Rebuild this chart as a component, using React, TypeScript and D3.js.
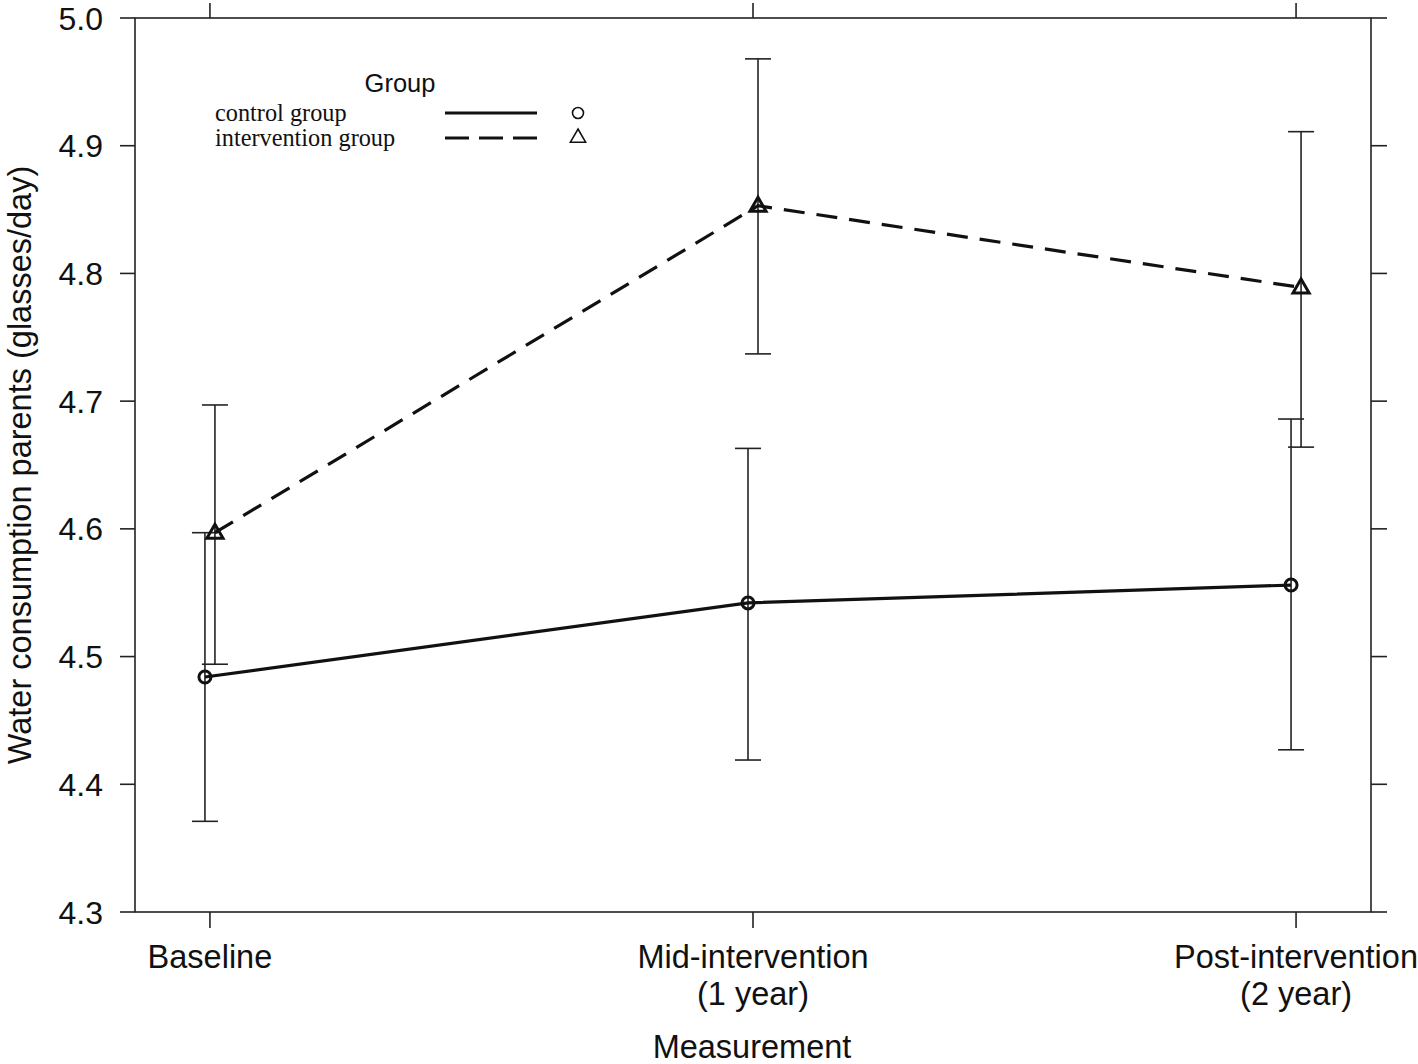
import React from "react";
import * as d3 from "d3";

const categories = ["Baseline", "Mid-intervention\n(1 year)", "Post-intervention\n(2 year)"];
const yTicks = [4.3, 4.4, 4.5, 4.6, 4.7, 4.8, 4.9, 5.0];

const controlMean = [4.484, 4.542, 4.556];
const controlLower = [4.371, 4.419, 4.427];
const controlUpper = [4.597, 4.663, 4.686];

const interventionMean = [4.597, 4.853, 4.789];
const interventionLower = [4.494, 4.737, 4.664];
const interventionUpper = [4.697, 4.968, 4.911];

const groups = [
  { name: "control group", mean: controlMean, lower: controlLower, upper: controlUpper, offset: -5, dash: null as string | null, marker: "circle" },
  { name: "intervention group", mean: interventionMean, lower: interventionLower, upper: interventionUpper, offset: 5, dash: "21 12", marker: "triangle" },
];

const W = 1418;
const H = 1064;
const L = 135, R = 1371, T = 18, B = 912;
const sans = "'Liberation Sans', Arial, sans-serif";
const serif = "'Liberation Serif', 'Times New Roman', serif";

export default function App() {
  const x = d3.scalePoint<string>().domain(categories).range([L, R]).padding(0.138);
  const y = d3.scaleLinear().domain([4.3, 5.0]).range([B, T]);
  const line = d3.line<[number, number]>().x((d) => d[0]).y((d) => d[1]);
  const triPath = (cx: number, cy: number, s = 8.5) =>
    `M${cx},${cy - s} L${cx + s * 0.95},${cy + s * 0.65} L${cx - s * 0.95},${cy + s * 0.65} Z`;

  return (
    <svg width={W} height={H} style={{ position: "absolute", left: 0, top: 0, background: "#fff" }}>
      <rect x={0} y={0} width={W} height={H} fill="#fff" />
      <rect x={L} y={T} width={R - L} height={B - T} fill="none" stroke="#222" strokeWidth={1.6} />
      {yTicks.map((t) => (
        <g key={t}>
          <line x1={L - 15} x2={L} y1={y(t)} y2={y(t)} stroke="#222" strokeWidth={1.6} />
          <line x1={R} x2={R + 16} y1={y(t)} y2={y(t)} stroke="#222" strokeWidth={1.6} />
          <text x={L - 32} y={y(t) + 11.5} textAnchor="end" fontFamily={sans} fontSize={32} fill="#111">
            {t.toFixed(1)}
          </text>
        </g>
      ))}
      {categories.map((c) => {
        const cx = x(c)!;
        const lines = c.split("\n");
        return (
          <g key={c}>
            <line x1={cx} x2={cx} y1={B} y2={B + 16} stroke="#222" strokeWidth={1.6} />
            <line x1={cx} x2={cx} y1={T - 15} y2={T} stroke="#222" strokeWidth={1.6} />
            {lines.map((ln, i) => (
              <text key={i} x={cx} y={968 + i * 37} textAnchor="middle" fontFamily={sans} fontSize={32.5} fill="#111">
                {ln}
              </text>
            ))}
          </g>
        );
      })}
      <text x={752} y={1058} textAnchor="middle" fontFamily={sans} fontSize={32.5} fill="#111">
        Measurement
      </text>
      <text
        transform={`translate(31,${(T + B) / 2}) rotate(-90)`}
        textAnchor="middle"
        fontFamily={sans}
        fontSize={32.5}
        fill="#111"
      >
        Water consumption parents (glasses/day)
      </text>
      {groups.map((g) => {
        const pts: [number, number][] = categories.map((c, i) => [x(c)! + g.offset, y(g.mean[i])]);
        return (
          <g key={g.name}>
            {categories.map((c, i) => {
              const cx = x(c)! + g.offset;
              return (
                <g key={c} stroke="#222" strokeWidth={1.6}>
                  <line x1={cx} x2={cx} y1={y(g.lower[i])} y2={y(g.upper[i])} />
                  <line x1={cx - 13} x2={cx + 13} y1={y(g.lower[i])} y2={y(g.lower[i])} />
                  <line x1={cx - 13} x2={cx + 13} y1={y(g.upper[i])} y2={y(g.upper[i])} />
                </g>
              );
            })}
            <path d={line(pts)!} fill="none" stroke="#111" strokeWidth={3.2} strokeDasharray={g.dash ?? undefined} />
            {pts.map((p, i) =>
              g.marker === "circle" ? (
                <circle key={i} cx={p[0]} cy={p[1]} r={6} fill="none" stroke="#111" strokeWidth={3} />
              ) : (
                <path key={i} d={triPath(p[0], p[1])} fill="none" stroke="#111" strokeWidth={3} />
              )
            )}
          </g>
        );
      })}
      <text x={400} y={92} textAnchor="middle" fontFamily={sans} fontSize={25.5} fill="#111">
        Group
      </text>
      {groups.map((g, i) => {
        const ly = 113 + i * 25;
        return (
          <g key={g.name}>
            <text x={215} y={ly + 8} fontFamily={serif} fontSize={24.3} fill="#111">
              {g.name}
            </text>
            <line x1={445} x2={537} y1={ly} y2={ly} stroke="#111" strokeWidth={3.2} strokeDasharray={g.dash ? "24 10" : undefined} />
            {g.marker === "circle" ? (
              <circle cx={578} cy={ly} r={5.5} fill="none" stroke="#111" strokeWidth={1.6} />
            ) : (
              <path d={triPath(578, ly - 1, 8)} fill="none" stroke="#111" strokeWidth={1.6} />
            )}
          </g>
        );
      })}
    </svg>
  );
}
